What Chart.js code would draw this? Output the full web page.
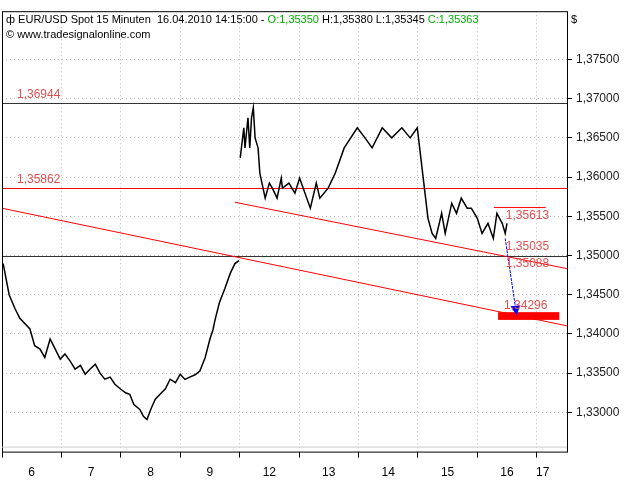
<!DOCTYPE html>
<html><head><meta charset="utf-8">
<script src="https://cdn.jsdelivr.net/npm/chart.js@4"></script>
<style>html,body{margin:0;padding:0;background:#fff}#w{width:640px;height:480px}</style>
</head><body><div id="w"><canvas id="c"></canvas></div>
<script>
// x positions in trading-day units (0 = start of day "6"), prices
const priceX = [0.02,0.12,0.22,0.30,0.47,0.55,0.64,0.72,0.81,0.90,0.98,1.06,1.15,1.23,1.32,1.40,1.48,1.57,1.65,1.73,1.82,1.90,2.00,2.08,2.15,2.22,2.32,2.38,2.44,2.51,2.58,2.66,2.75,2.83,2.92,3.00,3.08,3.16,3.25,3.33,3.42,3.50,3.55,3.59,3.66,3.75,3.84,3.92,3.99,
 null,
 4.01,4.07,4.09,4.14,4.17,4.20,4.23,4.26,4.31,4.34,4.43,4.50,4.55,4.63,4.70,4.72,4.83,4.93,5.01,5.10,5.19,5.29,5.35,5.49,5.61,5.76,5.98,6.11,6.23,6.40,6.56,6.73,6.87,6.99,7.03,7.09,7.17,7.24,7.30,7.40,7.46,7.57,7.65,7.73,7.83,7.90,8.00,8.08,8.18,8.27,8.33,8.42,8.47,8.50];
const priceY = [1.34897,1.34500,1.34321,1.34200,1.34064,1.33850,1.33808,1.33700,1.33936,1.33800,1.33679,1.33744,1.33650,1.33551,1.33600,1.33487,1.33550,1.33615,1.33500,1.33423,1.33450,1.33359,1.33295,1.33250,1.33231,1.33100,1.33038,1.32950,1.32910,1.33050,1.33167,1.33231,1.33300,1.33423,1.33380,1.33487,1.33420,1.33449,1.33480,1.33526,1.33700,1.33936,1.34050,1.34192,1.34400,1.34577,1.34769,1.34897,1.34936,
 null,
 1.36244,1.36628,1.36372,1.36756,1.36372,1.36756,1.36885,1.36500,1.36372,1.36051,1.35731,1.35923,1.35859,1.35731,1.35987,1.35859,1.35923,1.35795,1.35987,1.35795,1.35603,1.35923,1.35731,1.35859,1.36051,1.36372,1.36628,1.36500,1.36372,1.36628,1.36500,1.36628,1.36500,1.36628,1.36372,1.35987,1.35474,1.35282,1.35218,1.35538,1.35282,1.35667,1.35538,1.35731,1.35603,1.35603,1.35474,1.35282,1.35410,1.35218,1.35538,1.35410,1.35282,1.35410];
const dayLabels = ['6','7','8','9','12','13','14','15','16','17'];
const dayLabelPos = [0.5,1.5,2.5,3.5,4.5,5.5,6.5,7.5,8.5,9.1];
const yTicks = [1.33,1.335,1.34,1.345,1.35,1.355,1.36,1.365,1.37,1.375];
const hLevels = [{v:1.36944,label:'1,36944',color:'#333'},{v:1.35862,label:'1,35862',color:'#ff0000'},{v:1.35000,label:'',color:'#333'}];
const trendLines = [[0,1.35603,9.51,1.34103],[3.92,1.35679,9.51,1.34833]];
const sideLabels = [[8.48,1.35513,'1,35613'],[8.48,1.35115,'1,35035'],[8.48,1.34897,'1,35088'],[8.45,1.34359,'1,34296']];

const pts = priceX.map((x,i)=> x===null?{x:4.0,y:null}:{x:x,y:priceY[i]});
const F='"Liberation Sans", Arial, sans-serif';
const deco = {
 id:'deco',
 beforeDatasetsDraw(ch){
  const c=ch.ctx,xs=ch.scales.x,ys=ch.scales.y,a=ch.chartArea;
  c.save();
  c.beginPath();c.rect(a.left,a.top,a.right-a.left,a.bottom-a.top);c.clip();
  c.lineWidth=1;c.setLineDash([]);
  hLevels.forEach(h=>{const y=Math.round(ys.getPixelForValue(h.v))+0.5;c.strokeStyle=h.color;c.beginPath();c.moveTo(a.left,y);c.lineTo(a.right,y);c.stroke();
    if(h.label){c.fillStyle='#e05050';c.font='12px '+F;c.textBaseline='bottom';c.fillText(h.label,a.left+15,y-3);}});
  c.strokeStyle='#ff0000';
  trendLines.forEach(t=>{c.beginPath();c.moveTo(xs.getPixelForValue(t[0]),ys.getPixelForValue(t[1]));c.lineTo(xs.getPixelForValue(t[2]),ys.getPixelForValue(t[3]));c.stroke();});
  let y=ys.getPixelForValue(1.35613);c.beginPath();c.moveTo(xs.getPixelForValue(8.28),y);c.lineTo(xs.getPixelForValue(9.15),y);c.stroke();
  c.fillStyle='#ff0000';
  const x1=xs.getPixelForValue(8.35),x2=xs.getPixelForValue(9.38),y1=ys.getPixelForValue(1.34278),y2=ys.getPixelForValue(1.34179);
  c.fillRect(x1,y1,x2-x1,y2-y1);
  c.restore();
 },
 afterDatasetsDraw(ch){
  const c=ch.ctx,xs=ch.scales.x,ys=ch.scales.y,a=ch.chartArea;
  c.save();
  c.strokeStyle='#0000ff';c.lineWidth=1;c.setLineDash([3,1]);
  const ax=xs.getPixelForValue(8.47),ay=ys.getPixelForValue(1.35218),bx=xs.getPixelForValue(8.66),by=ys.getPixelForValue(1.34250);
  c.beginPath();c.moveTo(ax,ay);c.lineTo(bx,by);c.stroke();c.setLineDash([]);
  c.fillStyle='#0000ff';c.beginPath();c.moveTo(bx,by+1);c.lineTo(bx-6,by-8);c.lineTo(bx+4,by-9);c.closePath();c.fill();
  c.font='12px '+F;c.fillStyle='#e05050';c.textBaseline='middle';
  sideLabels.forEach(s=>c.fillText(s[2],xs.getPixelForValue(s[0]),ys.getPixelForValue(s[1])));
  c.strokeStyle='#000';c.lineWidth=1;c.strokeRect(a.left+0.5,a.top+0.5,a.right-a.left,a.bottom-a.top);
  c.strokeStyle='#ccc';c.beginPath();c.moveTo(a.left,a.bottom-4.5);c.lineTo(a.right,a.bottom-4.5);c.stroke();
  c.textBaseline='top';c.font='11px '+F;
  let x=a.left+4;
  const seg=[['ф EUR/USD Spot 15 Minuten  16.04.2010 14:15:00 - ','#000'],['O:1,35350','#00b000'],[' H:1,35380 L:1,35345 ','#000'],['C:1,35363','#00b000']];
  seg.forEach(s=>{c.fillStyle=s[1];c.fillText(s[0],x,a.top+3);x+=c.measureText(s[0]).width;});
  c.fillStyle='#000';c.fillText('$',a.right+4,a.top+3);
  c.fillText('© www.tradesignalonline.com',a.left+4,a.top+18);
  c.restore();
 }
};
new Chart(document.getElementById('c'),{
 type:'line',
 data:{datasets:[{data:pts,borderColor:'#000',borderWidth:1.5,pointRadius:0,spanGaps:false,tension:0}]},
 options:{responsive:true,maintainAspectRatio:false,animation:false,
  layout:{padding:{left:2,top:0,right:0,bottom:0}},
  plugins:{legend:{display:false},tooltip:{enabled:false}},
  scales:{
   x:{type:'linear',min:0,max:9.51,
     afterBuildTicks:s=>{s.ticks=[0,1,2,3,4,5,6,7,8,9].map(v=>({value:v}));},
     ticks:{display:false},
     grid:{color:'#bbb',lineWidth:1,tickLength:6,tickColor:'#000',drawTicks:true},
     border:{display:false,dash:[1,3]}},
   x2:{type:'linear',position:'bottom',min:0,max:9.51,
     afterBuildTicks:s=>{s.ticks=dayLabelPos.map(v=>({value:v}));},
     ticks:{autoSkip:false,maxRotation:0,color:'#000',font:{size:12,family:F},padding:0,callback:(v,i)=>dayLabels[i]},
     grid:{display:false},border:{display:false}},
   y:{position:'right',min:1.3250,max:1.38115,
     afterBuildTicks:s=>{s.ticks=yTicks.map(v=>({value:v}));},
     afterFit:s=>{s.width=73;},
     ticks:{color:'#222',font:{size:12,family:F},padding:4,callback:v=>'1,'+v.toFixed(5).split('.')[1]},
     grid:{color:'#bbb',tickLength:5,tickColor:'#000'},border:{display:false,dash:[1,3]}}
  }},
 plugins:[deco]
});
</script></body></html>
